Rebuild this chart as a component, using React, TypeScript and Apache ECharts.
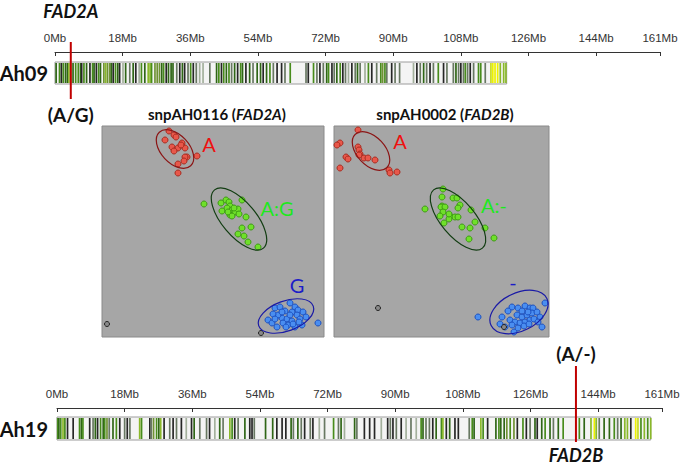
import React, { useEffect, useRef } from 'react';
import * as echarts from 'echarts';

// ---------- data ----------
const chromosomeNames = ['Ah09', 'Ah19'];
const chromosomeLengthsMb = [120.2, 158.0];
const axisMaxMb = 161;
const tickStepMb = 18;

const geneNames = ['FAD2A', 'FAD2B'];
const genePositionsMb = [4.2, 138.1];
const geneAlleles = ['(A/G)', '(A/-)'];

// stripe position (Mb) and colour class
const ah09Stripes: [number, string][] = [
  [0.3,'dg'],[1.2,'mg'],[1.7,'dk'],[2.2,'mg'],[2.8,'dg'],[3.3,'dg'],[3.7,'lg'],[4.2,'lg'],[4.8,'dg'],[5.5,'mg'],
  [6.2,'mg'],[6.8,'dg'],[7.1,'dk'],[7.7,'mg'],[8.4,'dg'],[9.3,'dk'],[10.0,'mg'],[10.4,'dg'],[11.0,'dk'],[11.6,'mg'],
  [12.1,'dg'],[13.0,'ol'],[13.5,'lg'],[14.0,'ol'],[14.6,'ol'],[15.0,'dg'],[15.5,'dk'],[16.1,'mg'],[16.7,'dg'],[17.2,'dk'],
  [18.1,'pg'],[18.8,'dg'],[19.9,'gy'],[20.8,'dg'],[21.5,'dk'],[22.4,'pg'],[23.0,'mg'],[23.9,'dg'],[24.8,'lg'],[25.3,'lg'],
  [25.7,'mg'],[26.6,'ol'],[27.2,'ol'],[27.8,'ol'],[28.4,'dg'],[28.9,'mg'],[29.6,'dk'],[30.2,'dg'],[30.9,'dg'],[31.4,'dg'],
  [32.4,'gy'],[33.2,'dk'],[33.9,'dg'],[34.5,'dk'],[35.4,'gy'],[36.1,'mg'],[36.8,'dk'],[37.6,'gy'],[38.5,'pg'],[39.4,'pg'],
  [41.2,'gy'],[43.0,'dg'],[43.6,'mg'],[44.3,'dk'],[44.9,'mg'],[45.6,'dg'],[46.3,'mg'],[47.0,'gy'],[47.8,'dg'],[48.6,'dk'],
  [49.4,'mg'],[49.9,'dg'],[50.8,'dk'],[51.8,'dg'],[52.7,'gy'],[53.8,'dg'],[54.7,'dg'],[55.4,'dk'],[56.3,'dg'],[57.2,'mg'],
  [58.1,'gy'],[59.1,'dk'],[60.3,'dk'],[61.2,'gy'],[62.6,'mg'],[66.8,'gy'],[67.4,'dk'],[68.8,'mg'],[69.7,'gy'],[70.5,'dk'],
  [71.4,'gy'],[72.3,'dg'],[72.8,'mg'],[73.7,'dk'],[74.3,'gy'],[75.0,'dg'],[75.9,'mg'],[76.6,'dk'],[77.3,'gy'],[78.1,'pg'],
  [79.0,'dk'],[79.9,'gy'],[80.5,'dg'],[81.2,'gy'],[82.5,'pg'],[83.4,'mg'],[84.3,'dk'],[85.6,'gy'],[86.7,'mg'],[87.2,'ol'],
  [87.8,'mg'],[88.3,'gy'],[89.6,'dk'],[90.5,'gy'],[91.7,'gy'],[95.4,'pg'],[96.3,'dk'],[97.2,'gy'],[98.1,'dg'],[98.9,'gy'],
  [99.8,'dk'],[100.7,'gy'],[102.0,'mg'],[103.4,'dk'],[104.3,'gy'],[106.0,'gy'],[106.7,'dg'],[107.4,'gy'],[108.0,'dk'],[108.7,'gy'],
  [109.2,'mg'],[109.8,'gy'],[110.5,'dk'],[111.4,'gy'],[112.7,'mg'],[113.3,'mg'],[114.5,'gy'],[116.0,'yl'],[116.5,'ye'],[117.1,'ye'],
  [117.8,'ye'],[118.5,'lg'],[119.4,'lg'],[120.0,'lg'],
];

const ah19Stripes: [number, string][] = [
  [0.2,'mg'],[0.5,'dg'],[1.0,'mg'],[1.6,'lg'],[2.1,'mg'],[2.8,'dk'],[4.3,'dk'],[6.0,'mg'],[6.5,'dg'],[6.9,'mg'],
  [8.7,'dk'],[9.6,'gy'],[10.2,'dg'],[10.8,'dk'],[11.6,'mg'],[12.3,'dg'],[12.7,'mg'],[13.3,'ol'],[13.9,'gy'],[14.9,'dg'],
  [15.8,'mg'],[16.7,'dk'],[18.0,'gy'],[18.7,'dk'],[19.4,'gy'],[22.0,'lg'],[22.5,'mg'],[24.7,'dk'],[25.1,'gy'],[25.7,'ol'],
  [26.5,'mg'],[27.1,'dg'],[27.6,'lg'],[28.5,'dk'],[30.0,'gy'],[30.9,'dk'],[31.8,'gy'],[33.1,'dk'],[34.4,'pg'],[35.8,'dk'],
  [36.5,'dg'],[38.0,'gy'],[39.8,'gy'],[40.6,'dk'],[42.0,'pg'],[43.3,'dg'],[44.2,'gy'],[46.0,'lg'],[46.6,'mg'],[47.3,'dk'],
  [48.2,'gy'],[50.0,'dg'],[51.3,'dk'],[51.9,'dk'],[52.5,'gy'],[55.5,'dg'],[57.4,'dg'],[58.5,'dk'],[59.9,'dk'],[60.9,'dk'],
  [62.3,'dg'],[62.9,'gy'],[64.1,'dg'],[65.0,'gy'],[65.9,'dk'],[67.4,'gy'],[68.1,'dk'],[69.8,'pg'],[71.2,'gy'],[73.6,'mg'],
  [74.9,'gy'],[75.6,'dg'],[76.5,'pg'],[79.2,'dg'],[79.8,'gy'],[81.8,'dk'],[83.2,'dk'],[84.5,'dk'],[86.3,'pg'],[88.0,'dk'],
  [88.7,'gy'],[89.4,'dk'],[90.3,'gy'],[91.6,'dk'],[92.9,'pg'],[94.2,'gy'],[95.6,'pg'],[96.9,'mg'],[97.4,'dg'],[98.2,'gy'],
  [99.1,'gy'],[100.0,'dk'],[100.9,'dg'],[102.3,'mg'],[102.7,'lg'],[103.6,'dk'],[104.5,'dg'],[105.9,'dk'],[106.8,'dk'],[109.7,'gy'],
  [110.5,'mg'],[111.0,'dg'],[112.8,'lg'],[113.4,'mg'],[114.6,'dk'],[116.8,'dg'],[117.6,'mg'],[118.1,'dg'],[119.0,'dg'],[119.7,'ol'],
  [120.6,'mg'],[121.6,'ol'],[122.5,'dk'],[124.0,'mg'],[124.9,'dk'],[125.9,'gy'],[127.2,'dg'],[127.8,'dk'],[129.0,'dg'],[129.9,'mg'],
  [131.2,'dg'],[132.1,'gy'],[133.4,'dg'],[134.7,'mg'],[139.0,'mg'],[140.3,'dg'],[142.1,'lg'],[143.0,'ye'],[143.5,'lg'],[144.3,'gy'],
  [145.6,'dg'],[147.0,'dg'],[148.3,'mg'],[149.2,'gy'],[150.1,'dg'],[151.1,'lg'],[151.8,'lg'],[152.7,'dk'],[154.0,'ye'],[154.6,'yl'],
  [155.4,'mg'],[156.3,'lg'],[157.2,'mg'],[158.0,'lg'],
];

// cluster plots (pixel-like units inside each panel, y from bottom)
const leftTitle = 'snpAH0116';
const leftGene = 'FAD2A';
const rightTitle = 'snpAH0002';
const rightGene = 'FAD2B';
const leftPanelSize = [222, 211];
const rightPanelSize = [215, 211];

const leftA = [[67,206],[63,197],[72,202],[74,200],[80,194],[70,190],[76,189],[83,189],[72,186],[85,180],[83,180],[82,176],[76,173],[95,181],[76,164],[79,192]];
const leftAG = [[102,133],[119,134],[124,137],[127,135],[128,131],[125,129],[120,126],[130,127],[131,124],[128,122],[133,125],[136,128],[137,123],[140,137],[144,120],[149,110],[140,109],[136,103],[142,101],[146,95],[156,90],[132,129],[126,125],[130,121]];
const leftG = [[173,29],[178,30],[188,34],[193,30],[183,26],[190,25],[196,27],[166,17],[170,14],[175,10],[180,19],[185,18],[190,16],[195,22],[198,18],[200,12],[193,10],[186,12],[181,14],[176,22],[171,23],[201,25],[204,20],[188,22],[180,25],[184,10],[191,13],[197,15],[173,18],[216,14]];
const leftFail = [[5,13],[159,4]];

const rightA = [[24,207],[6,194],[3,192],[24,190],[25,187],[26,183],[30,179],[34,179],[41,177],[12,180],[14,178],[6,169],[55,167],[56,164],[63,165],[25,182]];
const rightAminus = [[109,148],[91,128],[108,140],[119,139],[123,139],[108,131],[107,130],[111,130],[126,132],[124,129],[109,125],[106,121],[116,121],[121,120],[115,118],[124,120],[137,127],[141,115],[128,110],[136,109],[110,114],[151,109],[135,98],[160,99],[115,123]];
const rightMinus = [[144,20],[168,20],[178,30],[184,29],[191,31],[196,29],[199,29],[211,34],[183,22],[188,20],[193,22],[198,24],[203,25],[206,20],[176,17],[181,15],[186,14],[191,15],[196,17],[200,18],[204,15],[208,10],[166,13],[171,10],[178,12],[180,5],[184,9],[190,11],[195,13],[174,26],[194,25],[188,26]];
const rightFail = [[44,29],[170,10]];

// ellipses: cx, cy, rx, ry, rotation (deg, counter-clockwise)
const leftEllipses = [[73,188,23,14,-47],[137,118,38,17,-50],[184,21,29,15,20]];
const rightEllipses = [[37,186,23,14,-47],[124,118,38,17,-50],[185,25,31,19,26]];

const leftLabels = ['A', 'A:G', 'G'];
const leftLabelPos = [[107,193],[175,129],[195,52]];
const rightLabels = ['A', 'A:-', '-'];
const rightLabelPos = [[66,196],[160,132],[179,55]];

// ---------- styles ----------
const stripeColors: Record<string, string> = {
  dg: '#2f6616', mg: '#488c1c', lg: '#8ab82a', ol: '#6f9234', dk: '#262626',
  gy: '#687862', pg: '#a3b09c', ye: '#eef200', yl: '#c9dd1e',
};
const stripeKeys = Object.keys(stripeColors);
const STRIPE_W = 0.45;
const groupFill = ['#e8574a', '#6fe02a', '#4a8ef0'];
const groupBorder = ['#a82a1e', '#3c9a12', '#1a4fc0'];
const ellipseStroke = ['#8b1515', '#123d12', '#1a1aa6'];
const labelColor = ['#ee1010', '#1ee81e', '#1c1cc8'];
const TITLE_FONT = 'Lato, "Noto Sans", sans-serif';
const AXIS_FONT = '"Liberation Sans", Arial, sans-serif';

export default function App() {
  const ref = useRef<HTMLDivElement>(null);
  useEffect(() => {
    if (!ref.current) return;
    const chart = echarts.init(ref.current, undefined, { renderer: 'svg' });

    const bandGrids = [
      { left: 55, top: 62, width: 605, height: 22, outerBoundsMode: 'none', containLabel: false },
      { left: 57, top: 417, width: 605, height: 23, outerBoundsMode: 'none', containLabel: false },
    ];
    const axisOffsets = [10, 9];
    const nameMargins = [7, 9];
    const markerLayout = [
      { lineTop: -20, lineBottom: 15, nameY: 'top', nameOff: -51, alleleOff: 30 },
      { lineTop: -51, lineBottom: 2, nameY: 'bottom', nameOff: 15, alleleOff: -64 },
    ];

    const grids: any[] = [
      ...bandGrids,
      { left: 102, top: 126, width: leftPanelSize[0], height: leftPanelSize[1], outerBoundsMode: 'none', show: true, backgroundColor: '#a6a6a6', borderColor: '#8a8a8a', borderWidth: 1 },
      { left: 334, top: 126, width: rightPanelSize[0], height: rightPanelSize[1], outerBoundsMode: 'none', show: true, backgroundColor: '#a6a6a6', borderColor: '#8a8a8a', borderWidth: 1 },
    ];

    const xAxes: any[] = bandGrids.map((_, i) => ({
      gridIndex: i, type: 'value', min: 0, max: axisMaxMb, interval: tickStepMb,
      position: 'top', offset: axisOffsets[i],
      axisLine: { show: true, lineStyle: { color: '#333', width: 1 } },
      axisTick: { show: true, inside: true, length: 4, lineStyle: { color: '#333' } },
      axisLabel: { show: true, margin: 8, fontSize: 11.5, color: '#333', fontFamily: AXIS_FONT, formatter: (v: number) => `${v}Mb`, showMaxLabel: true, showMinLabel: true },
      splitLine: { show: false },
    }));
    xAxes.push(
      { gridIndex: 2, type: 'value', min: 0, max: leftPanelSize[0], show: false },
      { gridIndex: 3, type: 'value', min: 0, max: rightPanelSize[0], show: false },
    );
    const yAxes: any[] = bandGrids.map((_, i) => ({
      gridIndex: i, type: 'category', data: [chromosomeNames[i]],
      axisLine: { show: false }, axisTick: { show: false }, splitLine: { show: false },
      axisLabel: { show: true, margin: nameMargins[i], fontSize: 20, fontWeight: 'bold', color: '#111', fontFamily: TITLE_FONT, padding: i === 0 ? [0, 0, 5, 0] : [0, 0, 2, 0] },
    }));
    yAxes.push(
      { gridIndex: 2, type: 'value', min: 0, max: leftPanelSize[1], show: false },
      { gridIndex: 3, type: 'value', min: 0, max: rightPanelSize[1], show: false },
    );

    const series: any[] = [];
    const stripeSets = [ah09Stripes, ah19Stripes];
    bandGrids.forEach((_, i) => {
      series.push({
        type: 'custom', xAxisIndex: i, yAxisIndex: i, z: 1,
        data: [[chromosomeLengthsMb[i], 0]],
        renderItem: (params: any, api: any) => {
          const cs = params.coordSys;
          const p0 = api.coord([0, 0]);
          const p1 = api.coord([api.value(0), 0]);
          return { type: 'rect', shape: { x: p0[0], y: cs.y, width: p1[0] - p0[0], height: cs.height }, style: { fill: '#f4f4f4', stroke: '#9c9c9c', lineWidth: 1 } };
        },
      });
      series.push({
        type: 'custom', xAxisIndex: i, yAxisIndex: i, z: 2,
        data: stripeSets[i].map(([mb, c]) => [mb, 0, stripeKeys.indexOf(c)]),
        renderItem: (params: any, api: any) => {
          const cs = params.coordSys;
          const p = api.coord([api.value(0) - STRIPE_W / 2, 0]);
          const w = api.size([STRIPE_W, 0])[0];
          return { type: 'rect', shape: { x: p[0], y: cs.y + 1, width: Math.max(w, 1), height: cs.height - 2 }, style: { fill: stripeColors[stripeKeys[api.value(2)]] } };
        },
      });
      const ml = markerLayout[i];
      series.push({
        type: 'custom', xAxisIndex: i, yAxisIndex: i, z: 5, clip: false,
        data: [[genePositionsMb[i], 0]],
        renderItem: (params: any, api: any) => {
          const cs = params.coordSys;
          const x = api.coord([api.value(0), 0])[0];
          const top = cs.y, bottom = cs.y + cs.height;
          const nameY = ml.nameY === 'top' ? top + ml.nameOff : bottom + ml.nameOff;
          const alleleY = ml.nameY === 'top' ? bottom + ml.alleleOff : top + ml.alleleOff;
          return {
            type: 'group',
            children: [
              { type: 'line', shape: { x1: x, y1: top + ml.lineTop, x2: x, y2: bottom + ml.lineBottom }, style: { stroke: '#c00000', lineWidth: 2 } },
              { type: 'text', x: x, y: nameY, style: { text: geneNames[i], fill: '#111', font: `italic bold 18px ${TITLE_FONT}`, align: 'center', verticalAlign: 'middle' } },
              { type: 'text', x: x, y: alleleY, style: { text: geneAlleles[i], fill: '#111', font: `bold 19px ${TITLE_FONT}`, align: 'center', verticalAlign: 'middle' } },
            ],
          };
        },
      });
    });

    const panels = [
      { groups: [leftA, leftAG, leftG], fail: leftFail, ellipses: leftEllipses, labels: leftLabels, labelPos: leftLabelPos },
      { groups: [rightA, rightAminus, rightMinus], fail: rightFail, ellipses: rightEllipses, labels: rightLabels, labelPos: rightLabelPos },
    ];
    panels.forEach((pn, k) => {
      const gi = k + 2;
      pn.groups.forEach((pts, g) => {
        series.push({
          type: 'scatter', xAxisIndex: gi, yAxisIndex: gi, z: 3, symbol: 'circle', symbolSize: 6,
          data: pts, itemStyle: { color: groupFill[g], borderColor: groupBorder[g], borderWidth: 1, opacity: 1 },
          emphasis: { disabled: true },
        });
      });
      series.push({
        type: 'scatter', xAxisIndex: gi, yAxisIndex: gi, z: 3, symbol: 'circle', symbolSize: 5,
        data: pn.fail, itemStyle: { color: '#8a8a8a', borderColor: '#222', borderWidth: 1, opacity: 1 },
      });
      series.push({
        type: 'custom', xAxisIndex: gi, yAxisIndex: gi, z: 4,
        data: pn.ellipses.map((e, j) => [...e, j]),
        renderItem: (params: any, api: any) => {
          const c = api.coord([api.value(0), api.value(1)]);
          const s = api.size([api.value(2), api.value(3)]);
          return {
            type: 'ellipse', x: c[0], y: c[1], rotation: (api.value(4) * Math.PI) / 180,
            shape: { cx: 0, cy: 0, rx: s[0], ry: s[1] },
            style: { fill: 'none', stroke: ellipseStroke[api.value(5)], lineWidth: 1.2 },
          };
        },
      });
      series.push({
        type: 'scatter', xAxisIndex: gi, yAxisIndex: gi, z: 6, symbolSize: 0,
        itemStyle: { opacity: 1 },
        data: pn.labelPos.map((p, j) => ({
          value: p,
          label: { show: true, position: 'inside', formatter: pn.labels[j], color: labelColor[j], opacity: 1, textBorderWidth: 0, fontSize: 20, fontFamily: TITLE_FONT },
        })),
      });
    });

    const titleRich = {
      a: { fill: '#111', fontFamily: TITLE_FONT, fontWeight: 'bold', fontSize: 15 },
      b: { fill: '#111', fontFamily: TITLE_FONT, fontWeight: 'bold', fontStyle: 'italic', fontSize: 15 },
    };

    chart.setOption({
      animation: false,
      backgroundColor: '#ffffff',
      grid: grids,
      xAxis: xAxes,
      yAxis: yAxes,
      series,
      graphic: [
        { type: 'text', x: 217, y: 114, style: { text: `{a|${leftTitle} (}{b|${leftGene}}{a|)}`, rich: titleRich, align: 'center', verticalAlign: 'middle' } },
        { type: 'text', x: 445, y: 114, style: { text: `{a|${rightTitle} (}{b|${rightGene}}{a|)}`, rich: titleRich, align: 'center', verticalAlign: 'middle' } },
      ],
    });
    return () => chart.dispose();
  }, []);
  return <div ref={ref} style={{ position: 'absolute', left: 0, top: 0, width: 685, height: 466 }} />;
}
